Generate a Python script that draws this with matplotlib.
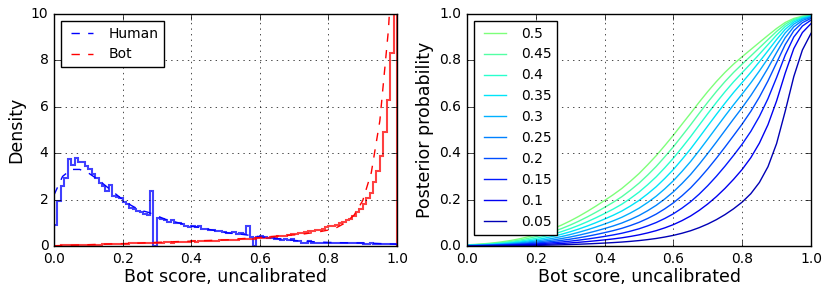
import numpy as np
import matplotlib
matplotlib.use("Agg")
import matplotlib.pyplot as plt
from matplotlib import cm

plt.style.use("classic")

# ---------------- data ----------------
bin_edges = np.linspace(0, 1, 101)

human_hist = [
    0.9, 1.95, 2.6, 2.95, 3.75, 3.5, 3.8, 3.6, 3.6, 3.45,
    3.3, 3.1, 2.95, 2.7, 2.6, 2.35, 2.65, 2.15, 2.1, 2.05,
    1.9, 1.8, 1.65, 1.6, 1.5, 1.45, 1.4, 1.35, 2.35, 0.0,
    1.2, 1.15, 1.1, 1.05, 1.1, 1.0, 1.0, 0.95, 0.85, 0.8,
    0.85, 0.8, 0.85, 0.75, 0.75, 0.7, 0.7, 0.65, 0.65, 0.6,
    0.55, 0.55, 0.6, 0.5, 0.55, 0.5, 0.85, 0.4, 0.0, 0.4,
    0.45, 0.4, 0.35, 0.35, 0.3, 0.3, 0.25, 0.3, 0.25, 0.3,
    0.2, 0.2, 0.15, 0.15, 0.2, 0.15, 0.15, 0.15, 0.15, 0.15,
    0.15, 0.13, 0.13, 0.12, 0.14, 0.12, 0.12, 0.11, 0.13, 0.11,
    0.1, 0.1, 0.12, 0.1, 0.09, 0.09, 0.08, 0.08, 0.08, 0.07,
]

bot_hist = [
    0.02, 0.02, 0.03, 0.03, 0.03, 0.04, 0.04, 0.04, 0.05, 0.05,
    0.05, 0.06, 0.06, 0.06, 0.07, 0.07, 0.08, 0.08, 0.09, 0.09,
    0.1, 0.1, 0.11, 0.11, 0.12, 0.12, 0.13, 0.13, 0.14, 0.14,
    0.15, 0.14, 0.16, 0.16, 0.15, 0.17, 0.17, 0.18, 0.18, 0.19,
    0.2, 0.19, 0.2, 0.21, 0.21, 0.22, 0.23, 0.22, 0.24, 0.25,
    0.25, 0.26, 0.27, 0.27, 0.29, 0.3, 0.32, 0.31, 0.32, 0.33,
    0.34, 0.35, 0.36, 0.38, 0.40, 0.41, 0.43, 0.45, 0.47, 0.5,
    0.52, 0.55, 0.58, 0.6, 0.63, 0.66, 0.68, 0.7, 0.75, 0.8,
    0.85, 0.88, 0.92, 0.97, 1.02, 1.1, 1.15, 1.3, 1.45, 1.6,
    1.8, 2.05, 2.3, 2.75, 3.25, 3.9, 4.9, 6.3, 8.3, 12.0,
]

kde_x = [0.0, 0.025, 0.05, 0.075, 0.1, 0.125, 0.15, 0.175, 0.2, 0.225,
         0.25, 0.275, 0.3, 0.325, 0.35, 0.375, 0.4, 0.425, 0.45, 0.475,
         0.5, 0.525, 0.55, 0.575, 0.6, 0.625, 0.65, 0.675, 0.7, 0.725,
         0.75, 0.775, 0.8, 0.825, 0.85, 0.875, 0.9, 0.925, 0.95, 0.975, 1.0]

human_kde = [2.2, 3.0, 3.3, 3.3, 3.15, 2.9, 2.6, 2.3, 2.0, 1.75,
             1.55, 1.45, 1.3, 1.15, 1.05, 0.95, 0.85, 0.8, 0.72, 0.65,
             0.58, 0.53, 0.5, 0.45, 0.4, 0.36, 0.32, 0.28, 0.24, 0.21,
             0.19, 0.17, 0.155, 0.145, 0.14, 0.135, 0.13, 0.12, 0.105, 0.09, 0.075]

bot_kde = [0.0110, 0.0210, 0.0322, 0.0439, 0.0565, 0.0689, 0.0809, 0.0928, 0.1026, 0.1130,
           0.1247, 0.1439, 0.1576, 0.1686, 0.1843, 0.1976, 0.2075, 0.2270, 0.2373, 0.2514,
           0.2632, 0.2851, 0.3188, 0.3435, 0.3656, 0.3979, 0.4277, 0.4570, 0.4785, 0.5114,
           0.5651, 0.6176, 0.6878, 0.8017, 1.0039, 1.3331, 1.9538, 3.157, 5.399, 9.318, 15.64]

priors = [0.5, 0.45, 0.4, 0.35, 0.3, 0.25, 0.2, 0.15, 0.1, 0.05]

# ---------------- figure ----------------
fig = plt.figure(figsize=(8.31, 2.97), dpi=100)
ax1 = fig.add_axes([54 / 831, 1 - 246 / 297, 343 / 831, 232 / 297])
ax2 = fig.add_axes([467 / 831, 1 - 246 / 297, 344 / 831, 232 / 297])

TICK = 10
LAB = 12.5

# left panel
ax1.stairs(human_hist, bin_edges, color="blue", lw=1.5, alpha=0.75)
ax1.stairs(bot_hist, bin_edges, color="red", lw=1.5, alpha=0.75)
ax1.plot(kde_x, human_kde, "--", color="blue", lw=1, label="Human")
ax1.plot(kde_x, bot_kde, "--", color="red", lw=1, label="Bot")
ax1.set_xlim(0, 1)
ax1.set_ylim(0, 10)
ax1.set_xticks([0.0, 0.2, 0.4, 0.6, 0.8, 1.0])
ax1.set_yticks([0, 2, 4, 6, 8, 10])
ax1.grid(True)
ax1.set_xlabel("Bot score, uncalibrated", fontsize=LAB, labelpad=2)
ax1.set_ylabel("Density", fontsize=LAB, labelpad=4)
ax1.tick_params(labelsize=TICK)
ax1.legend(loc="upper left", fontsize=TICK, handlelength=2.2)

# right panel: posterior probability from the two densities and the prior
hk = np.array(human_kde)
bk = np.array(bot_kde)
for p in priors:
    post = p * bk / (p * bk + (1 - p) * hk)
    ax2.plot(kde_x, post, color=cm.jet(p), lw=1, label=str(p))
ax2.set_xlim(0, 1)
ax2.set_ylim(0, 1)
ax2.set_xticks([0.0, 0.2, 0.4, 0.6, 0.8, 1.0])
ax2.set_yticks([0.0, 0.2, 0.4, 0.6, 0.8, 1.0])
ax2.grid(True)
ax2.set_xlabel("Bot score, uncalibrated", fontsize=LAB, labelpad=2)
ax2.set_ylabel("Posterior probability", fontsize=LAB, labelpad=4)
ax2.tick_params(labelsize=TICK)
ax2.legend(loc="upper left", fontsize=TICK, handlelength=2.2)

fig.savefig("out.png", dpi=100)
